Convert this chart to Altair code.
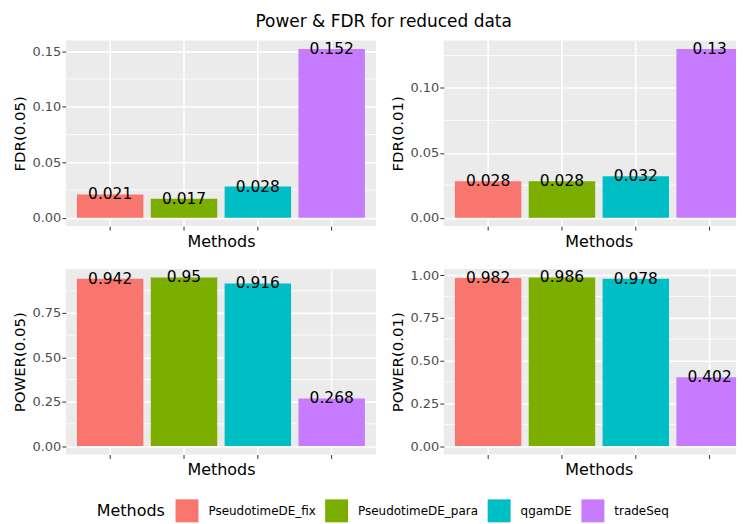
import altair as alt
import pandas as pd

methods = ["PseudotimeDE_fix", "PseudotimeDE_para", "qgamDE", "tradeSeq"]
colors = ["#F8766D", "#7CAE00", "#00BFC4", "#C77CFF"]

fdr05 = [0.021, 0.017, 0.028, 0.152]
fdr01 = [0.028, 0.028, 0.032, 0.13]
pow05 = [0.942, 0.95, 0.916, 0.268]
pow01 = [0.982, 0.986, 0.978, 0.402]

fdr05_major = [0.0, 0.05, 0.10, 0.15]
fdr05_minor = [0.025, 0.075, 0.125]
fdr01_major = [0.0, 0.05, 0.10]
fdr01_minor = [0.025, 0.075, 0.125]
pow05_major = [0.0, 0.25, 0.50, 0.75]
pow05_minor = [0.125, 0.375, 0.625, 0.875]
pow01_major = [0.0, 0.25, 0.50, 0.75, 1.00]
pow01_minor = [0.125, 0.375, 0.625, 0.875]

FONT = "DejaVu Sans"
PW, PH = 311, 186


def panel(values, ytitle, major, minor):
    df = pd.DataFrame({"Methods": methods, "value": values,
                       "label": [str(v) for v in values]})
    mdf = pd.DataFrame({"v": minor})
    top = max(values)
    scale = alt.Scale(domain=[-0.05 * top, 1.05 * top], nice=False, zero=False)
    yaxis = alt.Axis(values=major, format=".2f", grid=True, gridColor="white",
                     gridWidth=1.6, domain=False, tickSize=4, tickColor="#333333",
                     labelPadding=1, labelColor="#4D4D4D", labelFontSize=13,
                     titleFontSize=15, titleColor="black", titleFontWeight="normal",
                     titlePadding=3, minExtent=35, maxExtent=35)
    xenc = alt.X("Methods:N", sort=methods, title="Methods",
                 scale=alt.Scale(paddingInner=0.1, paddingOuter=0.15),
                 axis=alt.Axis(labels=False, ticks=True, tickSize=4, tickColor="#333333",
                               grid=True, gridColor="white", gridWidth=1.6, domain=False,
                               titleFontSize=16, titleColor="black",
                               titleFontWeight="normal", titlePadding=3,
                               minExtent=4, maxExtent=4))
    minor_rules = alt.Chart(mdf).mark_rule(color="white", strokeWidth=0.8).encode(
        y=alt.Y("v:Q", title=ytitle, scale=scale, axis=yaxis))
    bars = alt.Chart(df).mark_bar().encode(
        x=xenc,
        y=alt.Y("value:Q", title=ytitle, scale=scale, axis=yaxis),
        color=alt.Color("Methods:N", sort=methods, title="Methods",
                        scale=alt.Scale(domain=methods, range=colors),
                        legend=alt.Legend(orient="none", legendX=31, legendY=460,
                                          direction="horizontal", titleOrient="left",
                                          symbolType="square", symbolSize=529,
                                          symbolStrokeWidth=0, symbolOpacity=1,
                                          labelFontSize=12,
                                          labelColor="black", titleFontSize=16,
                                          titleColor="black", titleFontWeight="normal",
                                          labelOffset=10, columnPadding=9,
                                          titlePadding=10, padding=0)),
    )
    text = alt.Chart(df).mark_text(fontSize=15.5, baseline="middle", color="black",
                                   font=FONT).encode(
        x=xenc,
        y=alt.Y("value:Q", title=ytitle, scale=scale, axis=yaxis),
        text=alt.Text("label:N"),
    )
    return alt.layer(minor_rules, bars, text).properties(width=PW, height=PH)


p1 = panel(fdr05, "FDR(0.05)", fdr05_major, fdr05_minor)
p2 = panel(fdr01, "FDR(0.01)", fdr01_major, fdr01_minor)
p3 = panel(pow05, "POWER(0.05)", pow05_major, pow05_minor)
p4 = panel(pow01, "POWER(0.01)", pow01_major, pow01_minor)

row1 = alt.hconcat(p1, p2, spacing=14)
row2 = alt.hconcat(p3, p4, spacing=14)

chart = alt.vconcat(row1, row2, spacing=20).properties(
    title=alt.TitleParams("Power & FDR for reduced data", fontSize=17,
                          fontWeight="normal", anchor="middle", font=FONT,
                          color="black", offset=10),
    padding={"left": 5, "top": 4, "right": -19, "bottom": 0},
    background="white",
).configure(
    font=FONT,
    view=alt.ViewConfig(stroke=None, fill="#EBEBEB"),
)

chart.save("out.html", embed_options={"renderer": "svg", "actions": False})
